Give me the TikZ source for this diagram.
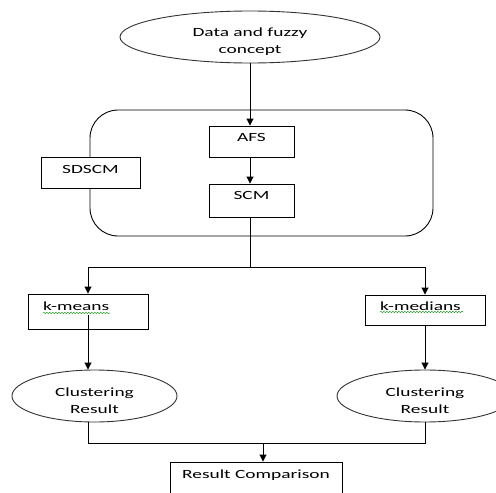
\documentclass[tikz,border=0pt]{standalone}
\usepackage{fontspec}
\setmainfont[FakeStretch=1.55]{Carlito}
\usetikzlibrary{shapes.geometric,arrows.meta,decorations.pathmorphing}
\begin{document}
\begin{tikzpicture}[x=1pt,y=-1pt, line width=0.9pt,
  txt/.style={font=\fontsize{12.5}{17}\selectfont, align=center},
  oval/.style={ellipse, draw=black!80, fill=white, inner sep=0pt},
  ovaltxt/.style={txt, inner sep=0pt, yshift=-4.5pt},
  box/.style={draw, fill=white, inner sep=0pt, txt, text height=9pt},
  lbox/.style={box, inner xsep=15pt, text width=90pt, align=left},
  arr/.style={-{Triangle[length=7pt,width=7pt]}},
  squig/.style={draw=green!55!black, line width=0.4pt, decorate,
    decoration={snake,amplitude=0.7pt,segment length=3pt}}]
\useasboundingbox (0,0) rectangle (496,493);

\node[oval, minimum width=260, minimum height=52,
  label={[ovaltxt,name=datatext]center:Data and fuzzy\\concept}] (data) at (250,37) {};
\node[draw, rounded corners=28, minimum width=343, minimum height=126, inner sep=0pt] (grp) at (261.5,173) {};
\node[box, minimum width=85, minimum height=31, text depth=10pt] (afs) at (251.5,141.5) {AFS};
\node[box, minimum width=85, minimum height=33, text depth=12pt] (scm) at (251.5,200.5) {SCM};
\node[box, minimum width=99, minimum height=31, text depth=8pt] (sdscm) at (90.5,172.5) {SDSCM};
\node[lbox, minimum height=35, text depth=12pt] (kmeans) at (88,311.5) {k-means};
\node[lbox, minimum height=30, text depth=9pt] (kmedians) at (425,310) {k-medians};
\node[oval, minimum width=165, minimum height=52,
  label={[ovaltxt,name=cl1text]center:Clustering\\Result}] (cl1) at (94.5,396) {};
\node[oval, minimum width=176, minimum height=52,
  label={[ovaltxt,name=cl2text]center:Clustering\\Result}] (cl2) at (425,396) {};
\node[box, minimum width=172, minimum height=50, text depth=27pt] (rc) at (256,487) {Result Comparison};

\draw[squig] (43,313) -- (110,313);
\draw[squig] (380,312) -- (463,312);

\coordinate (split) at (250,267);
\coordinate (merge) at (263,443);

\draw[arr] (data.south) -- (data.south |- afs.north);
\draw[arr] (data.south |- afs.south) -- (data.south |- scm.north);
\draw[arr] (data.south |- scm.south) -- (split) -| (kmeans.north);
\draw[arr] (split) -| (kmedians.north);
\draw[arr] ([yshift=-3.5pt]kmeans.center) -- (kmeans.center |- cl1.north);
\draw[arr] (kmedians.south) -- (kmedians.center |- cl2.north);
\draw (kmeans.center |- cl1.south) -- (kmeans.center |- merge) -- (kmedians.center |- merge) -- (kmedians.center |- cl2.south);
\draw[arr] (merge) -- (merge |- rc.north);
\end{tikzpicture}
\end{document}
